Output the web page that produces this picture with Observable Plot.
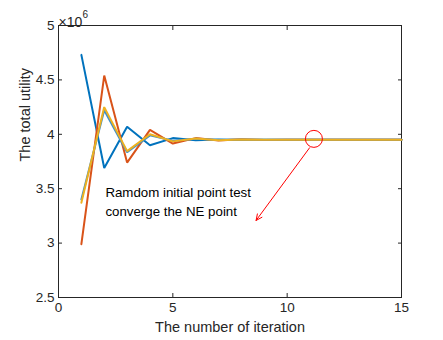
<!DOCTYPE html>
<html>
<head>
<meta charset="utf-8">
<script src="https://cdn.jsdelivr.net/npm/d3@7"></script>
<script src="https://cdn.jsdelivr.net/npm/@observablehq/plot@0.6"></script>
<style>
  html, body { margin: 0; padding: 0; background: #fff; }
  svg { display: block; }
</style>
</head>
<body>
<div id="chart"></div>
<script>
// Values in units of 10^6
const iterations = [1,2,3,4,5,6,7,8,9,10,11,12,13,14,15];
const seriesBlue   = [4.73, 3.69, 4.07, 3.90, 3.965, 3.945, 3.953, 3.948, 3.951, 3.950, 3.950, 3.950, 3.950, 3.950, 3.950];
const seriesOrange = [2.99, 4.54, 3.74, 4.04, 3.915, 3.965, 3.943, 3.954, 3.948, 3.951, 3.950, 3.950, 3.950, 3.950, 3.950];
const seriesHidden = [3.40, 4.22, 3.835, 3.99, 3.94, 3.958, 3.947, 3.952, 3.949, 3.950, 3.950, 3.950, 3.950, 3.950, 3.950];
const seriesYellow = [3.37, 4.25, 3.845, 4.00, 3.935, 3.962, 3.946, 3.953, 3.949, 3.950, 3.950, 3.950, 3.950, 3.950, 3.950];
const xTicks = [0, 5, 10, 15];
const yTicks = [2.5, 3, 3.5, 4, 4.5, 5];
const xTitle = "The number of iteration";
const yTitle = "The total utility";
const annotationText = [{x: 2.05, y: 3.39, text: "Ramdom initial point test\nconverge the NE point"}];
const circleMark = [{x: 11.17, y: 3.958}];
const arrowMark = [{x1: 10.98, y1: 3.876, x2: 8.64, y2: 3.208}];

const series = [
  {name: "blue", color: "#0072BD", values: seriesBlue},
  {name: "orange", color: "#D95319", values: seriesOrange},
  {name: "hidden", color: "#3f8fc9", values: seriesHidden},
  {name: "yellow", color: "#EDB120", values: seriesYellow}
];
const rows = series.flatMap(s => s.values.map((v, i) => ({series: s.name, x: iterations[i], y: v})));

const axisColor = "#262626";
const font = "'Liberation Sans', Arial, Helvetica, sans-serif";

const chart = Plot.plot({
  width: 443,
  height: 340,
  marginLeft: 58,
  marginRight: 42,
  marginTop: 25,
  marginBottom: 43,
  style: {fontFamily: font, fontSize: "13px", color: axisColor, background: "#fff"},
  x: {domain: [0, 15]},
  y: {domain: [2.5, 5]},
  marks: [
    Plot.axisX(xTicks, {anchor: "bottom", tickSize: -4, tickPadding: 9, fontSize: 13.5, stroke: axisColor, fill: axisColor, label: null}),
    Plot.axisX(xTicks, {anchor: "top", tickSize: -4, tickFormat: () => "", label: null, stroke: axisColor}),
    Plot.axisY(yTicks, {anchor: "left", tickSize: -4, tickPadding: 8, fontSize: 13.5, stroke: axisColor, fill: axisColor,
      tickFormat: d => String(d), label: null}),
    Plot.axisY(yTicks, {anchor: "right", tickSize: -4, tickFormat: () => "", label: null, stroke: axisColor}),
    Plot.text([xTitle], {frameAnchor: "bottom", dy: 34, fontSize: 14.5, fill: axisColor}),
    Plot.text([yTitle], {frameAnchor: "left", dx: -33, rotate: -90, fontSize: 14.5, fill: axisColor}),
    Plot.frame({stroke: axisColor, strokeWidth: 1}),
    ...series.map(s => Plot.line(rows.filter(r => r.series === s.name), {
      x: "x", y: "y", stroke: s.color, strokeWidth: 2, strokeLinejoin: "miter"
    })),
    Plot.dot(circleMark, {x: "x", y: "y", r: 8.5, stroke: "#ff0000", strokeWidth: 1, fill: "none"}),
    Plot.arrow(arrowMark, {x1: "x1", y1: "y1", x2: "x2", y2: "y2", stroke: "#ff0000", strokeWidth: 1, headLength: 10, headAngle: 50}),
    Plot.text(annotationText, {x: "x", y: "y", text: "text", textAnchor: "start", fontSize: 13.3, lineHeight: 1.4, fill: "#000", fontFamily: font}),
    Plot.text(["×10"], {frameAnchor: "top-left", dy: -8, dx: 0, textAnchor: "start", fontSize: 14, fill: axisColor}),
    Plot.text(["6"], {frameAnchor: "top-left", dy: -15, dx: 24, textAnchor: "start", fontSize: 10, fill: axisColor})
  ]
});
document.getElementById("chart").appendChild(chart);
</script>
</body>
</html>
